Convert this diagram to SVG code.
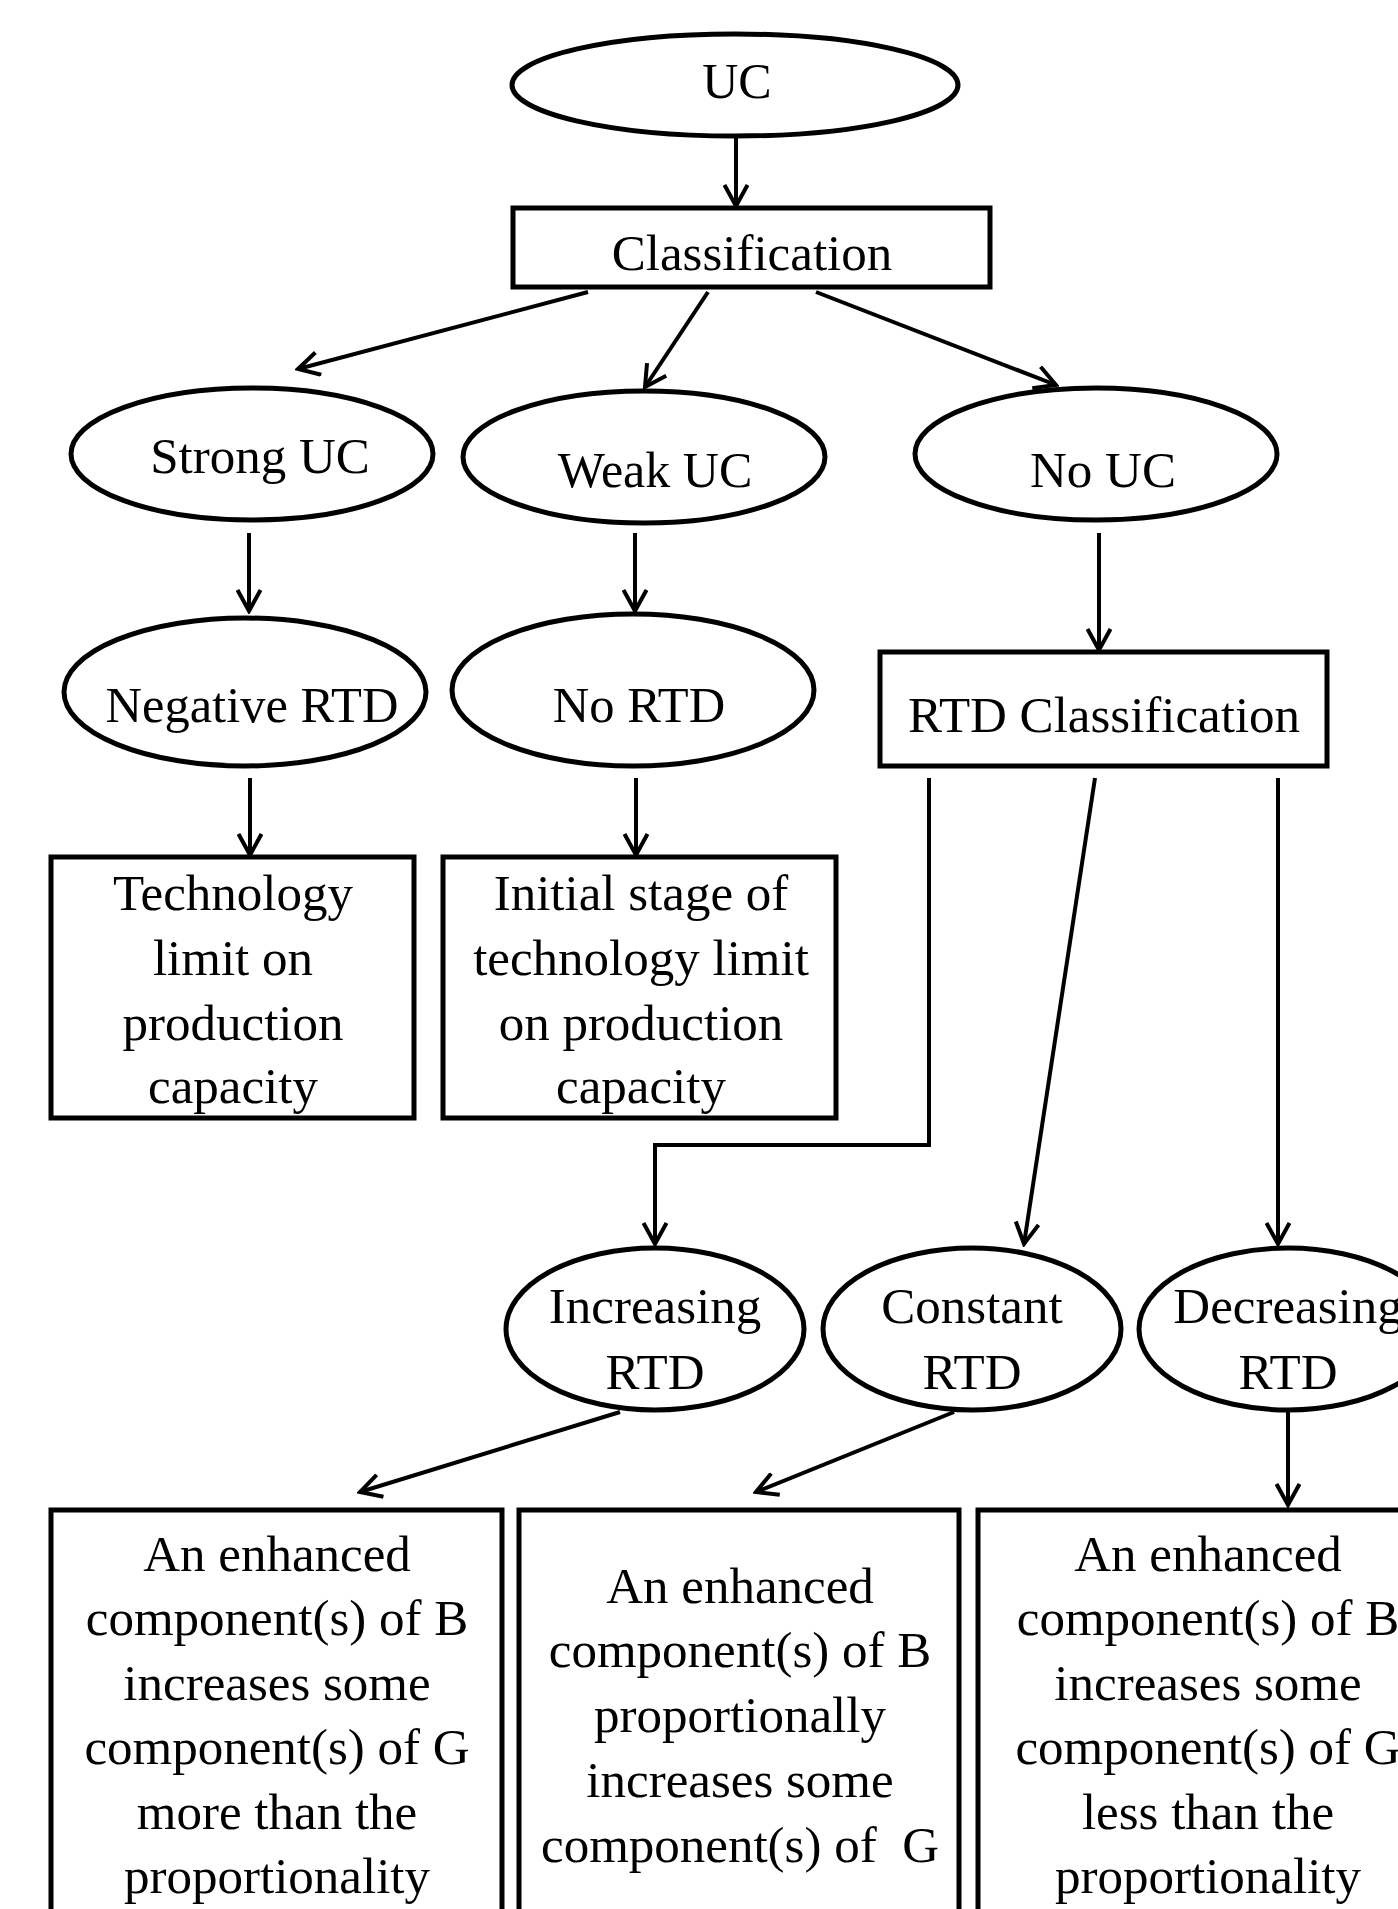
<svg xmlns="http://www.w3.org/2000/svg" width="1398" height="1909" viewBox="0 0 1398 1909">
<style>
.n{fill:#fff;stroke:#000;stroke-width:5}
.t{font-family:"Liberation Serif","Times New Roman",serif;font-size:51px;fill:#000;text-anchor:middle}
.c{fill:none;stroke:#000;stroke-width:4}
</style>
<defs>
<marker id="ah" viewBox="0 0 26 26" refX="23" refY="13" markerWidth="26" markerHeight="26" markerUnits="userSpaceOnUse" orient="auto">
<path d="M2,1.5 L23,13 L2,24.5" fill="none" stroke="#000" stroke-width="4"/>
</marker>
</defs>
<rect width="1398" height="1909" fill="#fff"/>
<g id="connectors">
<path class="c" marker-end="url(#ah)" d="M736,138 L736,206"/>
<path class="c" marker-end="url(#ah)" d="M588,292 L298,369"/>
<path class="c" marker-end="url(#ah)" d="M708,292 L645,387"/>
<path class="c" marker-end="url(#ah)" d="M816,292 L1056,385"/>
<path class="c" marker-end="url(#ah)" d="M249,533 L249,611"/>
<path class="c" marker-end="url(#ah)" d="M635,533 L635,611"/>
<path class="c" marker-end="url(#ah)" d="M1099,533 L1099,650"/>
<path class="c" marker-end="url(#ah)" d="M250,778 L250,855"/>
<path class="c" marker-end="url(#ah)" d="M636,778 L636,855"/>
<path class="c" marker-end="url(#ah)" d="M929,778 L929,1145 L655,1145 L655,1244"/>
<path class="c" marker-end="url(#ah)" d="M1095,778 L1024,1244"/>
<path class="c" marker-end="url(#ah)" d="M1278,778 L1278,1244"/>
<path class="c" marker-end="url(#ah)" d="M620,1412 L360,1492"/>
<path class="c" marker-end="url(#ah)" d="M954,1412 L756,1492"/>
<path class="c" marker-end="url(#ah)" d="M1288,1412 L1288,1505"/>
</g>
<g id="uc">
<ellipse class="n" cx="735" cy="85" rx="223" ry="51"/>
<text class="t" x="737" y="98" style="font-size:50px">UC</text>
</g>
<g id="classification">
<rect class="n" x="513" y="208" width="477" height="79"/>
<text class="t" x="752" y="270">Classification</text>
</g>
<g id="strong-uc">
<ellipse class="n" cx="252" cy="454" rx="181" ry="66"/>
<text class="t" x="260" y="473">Strong UC</text>
</g>
<g id="weak-uc">
<ellipse class="n" cx="644" cy="457" rx="181" ry="66"/>
<text class="t" x="655" y="487" style="font-size:50px">Weak UC</text>
</g>
<g id="no-uc">
<ellipse class="n" cx="1096" cy="454" rx="181" ry="66"/>
<text class="t" x="1103" y="487">No UC</text>
</g>
<g id="negative-rtd">
<ellipse class="n" cx="245" cy="692" rx="181" ry="74"/>
<text class="t" x="252" y="722" style="font-size:50.5px">Negative RTD</text>
</g>
<g id="no-rtd">
<ellipse class="n" cx="633" cy="690" rx="181" ry="76"/>
<text class="t" x="639" y="722" style="font-size:50.5px">No RTD</text>
</g>
<g id="rtd-classification">
<rect class="n" x="880" y="652" width="447" height="114"/>
<text class="t" x="1104" y="732">RTD Classification</text>
</g>
<g id="technology-limit">
<rect class="n" x="51" y="857" width="363" height="261"/>
<text class="t" x="233" y="910">Technology</text>
<text class="t" x="233" y="975">limit on</text>
<text class="t" x="233" y="1040">production</text>
<text class="t" x="233" y="1103">capacity</text>
</g>
<g id="initial-stage">
<rect class="n" x="443" y="857" width="393" height="261"/>
<text class="t" x="641" y="910">Initial stage of</text>
<text class="t" x="641" y="975">technology limit</text>
<text class="t" x="641" y="1040">on production</text>
<text class="t" x="641" y="1103">capacity</text>
</g>
<g id="increasing-rtd">
<ellipse class="n" cx="655" cy="1329" rx="149" ry="81"/>
<text class="t" x="655" y="1323">Increasing</text>
<text class="t" x="655" y="1389">RTD</text>
</g>
<g id="constant-rtd">
<ellipse class="n" cx="972" cy="1329" rx="149" ry="81"/>
<text class="t" x="972" y="1323">Constant</text>
<text class="t" x="972" y="1389">RTD</text>
</g>
<g id="decreasing-rtd">
<ellipse class="n" cx="1288" cy="1329" rx="149" ry="81"/>
<text class="t" x="1288" y="1323">Decreasing</text>
<text class="t" x="1288" y="1389">RTD</text>
</g>
<g id="box-more">
<rect class="n" x="51" y="1510" width="451" height="500"/>
<text class="t" x="277" y="1571">An enhanced</text>
<text class="t" x="277" y="1635">component(s) of B</text>
<text class="t" x="277" y="1700">increases some</text>
<text class="t" x="277" y="1764">component(s) of G</text>
<text class="t" x="277" y="1829">more than the</text>
<text class="t" x="277" y="1893">proportionality</text>
</g>
<g id="box-proportional">
<rect class="n" x="519" y="1510" width="440" height="500"/>
<text class="t" x="740" y="1603">An enhanced</text>
<text class="t" x="740" y="1667">component(s) of B</text>
<text class="t" x="740" y="1732">proportionally</text>
<text class="t" x="740" y="1797">increases some</text>
<text class="t" x="740" y="1862" style="white-space:pre">component(s) of  G</text>
</g>
<g id="box-less">
<rect class="n" x="978" y="1510" width="500" height="500"/>
<text class="t" x="1208" y="1571">An enhanced</text>
<text class="t" x="1208" y="1635">component(s) of B</text>
<text class="t" x="1208" y="1700">increases some</text>
<text class="t" x="1208" y="1764">component(s) of G</text>
<text class="t" x="1208" y="1829">less than the</text>
<text class="t" x="1208" y="1893">proportionality</text>
</g>
</svg>
